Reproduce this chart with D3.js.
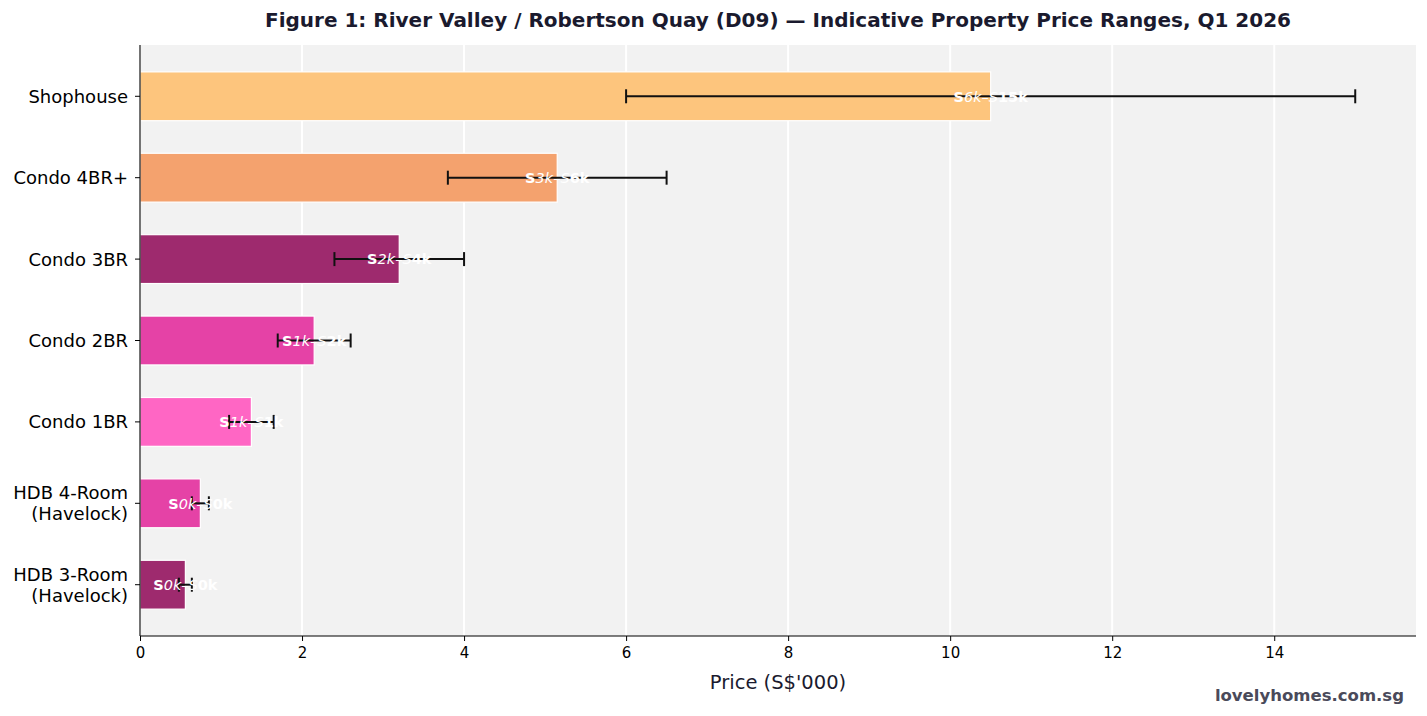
<!DOCTYPE html>
<html>
<head>
<meta charset="utf-8">
<script src="https://cdn.jsdelivr.net/npm/d3@7"></script>
<style>
  body { margin: 0; background: #fff; }
  svg { font-family: "DejaVu Sans", sans-serif; display: block; }
</style>
</head>
<body>
<div id="chart"></div>
<script>
// Categories listed bottom to top, like the reference
const categories = ["HDB 3-Room\n(Havelock)", "HDB 4-Room\n(Havelock)", "Condo 1BR", "Condo 2BR", "Condo 3BR", "Condo 4BR+", "Shophouse"];
const lowValues = [0.48, 0.64, 1.1, 1.7, 2.4, 3.8, 6.0];
const highValues = [0.64, 0.85, 1.65, 2.6, 4.0, 6.5, 15.0];
const barColors = ["#9e2a6e", "#e542a6", "#ff66c4", "#e542a6", "#9e2a6e", "#f4a26e", "#fdc57d"];
const xTicks = [0, 2, 4, 6, 8, 10, 12, 14];

const width = 1427, height = 716;
const margin = {left: 140, right: 11, top: 45, bottom: 80};

const svg = d3.select("#chart").append("svg")
    .attr("width", width)
    .attr("height", height);

const x = d3.scaleLinear()
    .domain([0, 15.75])
    .range([margin.left, width - margin.right]);

// numeric y so the padding at both ends matches the reference
const y = d3.scaleLinear()
    .domain([-0.63, categories.length - 1 + 0.63])
    .range([height - margin.bottom, margin.top]);

const band = Math.abs(y(1) - y(0));
const barH = band * 0.6;

const rows = categories.map((c, i) => ({
    name: c,
    idx: i,
    lo: lowValues[i],
    hi: highValues[i],
    mid: (lowValues[i] + highValues[i]) / 2,
    color: barColors[i]
}));

// plot background
svg.append("rect")
    .attr("x", margin.left)
    .attr("y", margin.top)
    .attr("width", width - margin.right - margin.left)
    .attr("height", height - margin.bottom - margin.top)
    .attr("fill", "#f2f2f2");

// vertical grid
svg.append("g")
    .selectAll("line")
    .data(xTicks)
    .enter()
    .append("line")
    .attr("x1", d => x(d)).attr("x2", d => x(d))
    .attr("y1", margin.top).attr("y2", height - margin.bottom)
    .attr("stroke", "#fff")
    .attr("stroke-width", 2);

// bars (midpoint of range)
svg.append("g")
    .selectAll("rect")
    .data(rows)
    .enter()
    .append("rect")
    .attr("x", x(0))
    .attr("y", d => y(d.idx) - barH / 2)
    .attr("width", d => x(d.mid) - x(0))
    .attr("height", barH)
    .attr("fill", d => d.color)
    .attr("stroke", "#fff")
    .attr("stroke-width", 1.2);

// error bars
const err = svg.append("g")
    .selectAll("g")
    .data(rows)
    .enter()
    .append("g")
    .attr("stroke", "#111")
    .attr("stroke-width", 2);

err.append("line")
    .attr("x1", d => x(d.lo)).attr("x2", d => x(d.hi))
    .attr("y1", d => y(d.idx)).attr("y2", d => y(d.idx));
err.append("line")
    .attr("x1", d => x(d.lo)).attr("x2", d => x(d.lo))
    .attr("y1", d => y(d.idx) - 7).attr("y2", d => y(d.idx) + 7);
err.append("line")
    .attr("x1", d => x(d.hi)).attr("x2", d => x(d.hi))
    .attr("y1", d => y(d.idx) - 7).attr("y2", d => y(d.idx) + 7);

// range labels, rendered like matplotlib's mathtext mangling of "S$..k–S$..k"
const lbl = svg.append("g")
    .selectAll("text")
    .data(rows)
    .enter()
    .append("text")
    .attr("x", d => x(d.mid))
    .attr("y", d => y(d.idx))
    .attr("dy", "0.36em")
    .attr("text-anchor", "middle")
    .attr("fill", "#fff")
    .attr("font-size", 14.5);

lbl.append("tspan").attr("font-weight", "bold").text("S");
lbl.append("tspan").attr("font-style", "italic").text(d => Math.trunc(d.lo) + "k–S");
lbl.append("tspan").attr("font-weight", "bold").text(d => Math.trunc(d.hi) + "k");

// x axis
const xAxis = svg.append("g")
    .attr("transform", `translate(0,${height - margin.bottom})`)
    .call(d3.axisBottom(x).tickValues(xTicks).tickSize(5).tickPadding(6).tickFormat(d3.format("d")));
xAxis.select(".domain").attr("stroke", "#000").attr("stroke-width", 1.1)
    .attr("d", `M${margin.left},0H${width - margin.right}`);
xAxis.selectAll(".tick line").attr("stroke", "#000");
xAxis.selectAll(".tick text").attr("font-size", 15).attr("fill", "#000")
    .attr("font-family", "DejaVu Sans, sans-serif");

// y axis line and ticks
svg.append("line")
    .attr("x1", margin.left).attr("x2", margin.left)
    .attr("y1", margin.top).attr("y2", height - margin.bottom)
    .attr("stroke", "#000").attr("stroke-width", 1.1);

const yt = svg.append("g")
    .selectAll("g")
    .data(rows)
    .enter()
    .append("g")
    .attr("transform", d => `translate(${margin.left},${y(d.idx)})`);

yt.append("line").attr("x1", -5).attr("x2", 0).attr("stroke", "#000");

yt.append("text")
    .attr("text-anchor", "end")
    .attr("font-size", 18)
    .attr("fill", "#000")
    .each(function(d) {
        const lines = d.name.split("\n");
        const t = d3.select(this);
        const lh = 21;
        lines.forEach((ln, i) => {
            t.append("tspan")
                .attr("x", -12)
                .attr("y", (i - (lines.length - 1) / 2) * lh)
                .attr("dy", "0.36em")
                .text(ln);
        });
    });

// x label
svg.append("text")
    .attr("x", x(15.75 / 2))
    .attr("y", 689)
    .attr("text-anchor", "middle")
    .attr("font-size", 19.5)
    .attr("fill", "#1a1a2e")
    .text("Price (S$'000)");

// title
svg.append("text")
    .attr("x", (margin.left + width - margin.right) / 2)
    .attr("y", 27)
    .attr("text-anchor", "middle")
    .attr("font-size", 20)
    .attr("font-weight", "bold")
    .attr("fill", "#1a1a2e")
    .text("Figure 1: River Valley / Robertson Quay (D09) — Indicative Property Price Ranges, Q1 2026");

// watermark
svg.append("text")
    .attr("x", 1404)
    .attr("y", 701)
    .attr("text-anchor", "end")
    .attr("font-size", 16.5)
    .attr("font-weight", "bold")
    .attr("fill", "#4a4a5a")
    .text("lovelyhomes.com.sg");
</script>
</body>
</html>
